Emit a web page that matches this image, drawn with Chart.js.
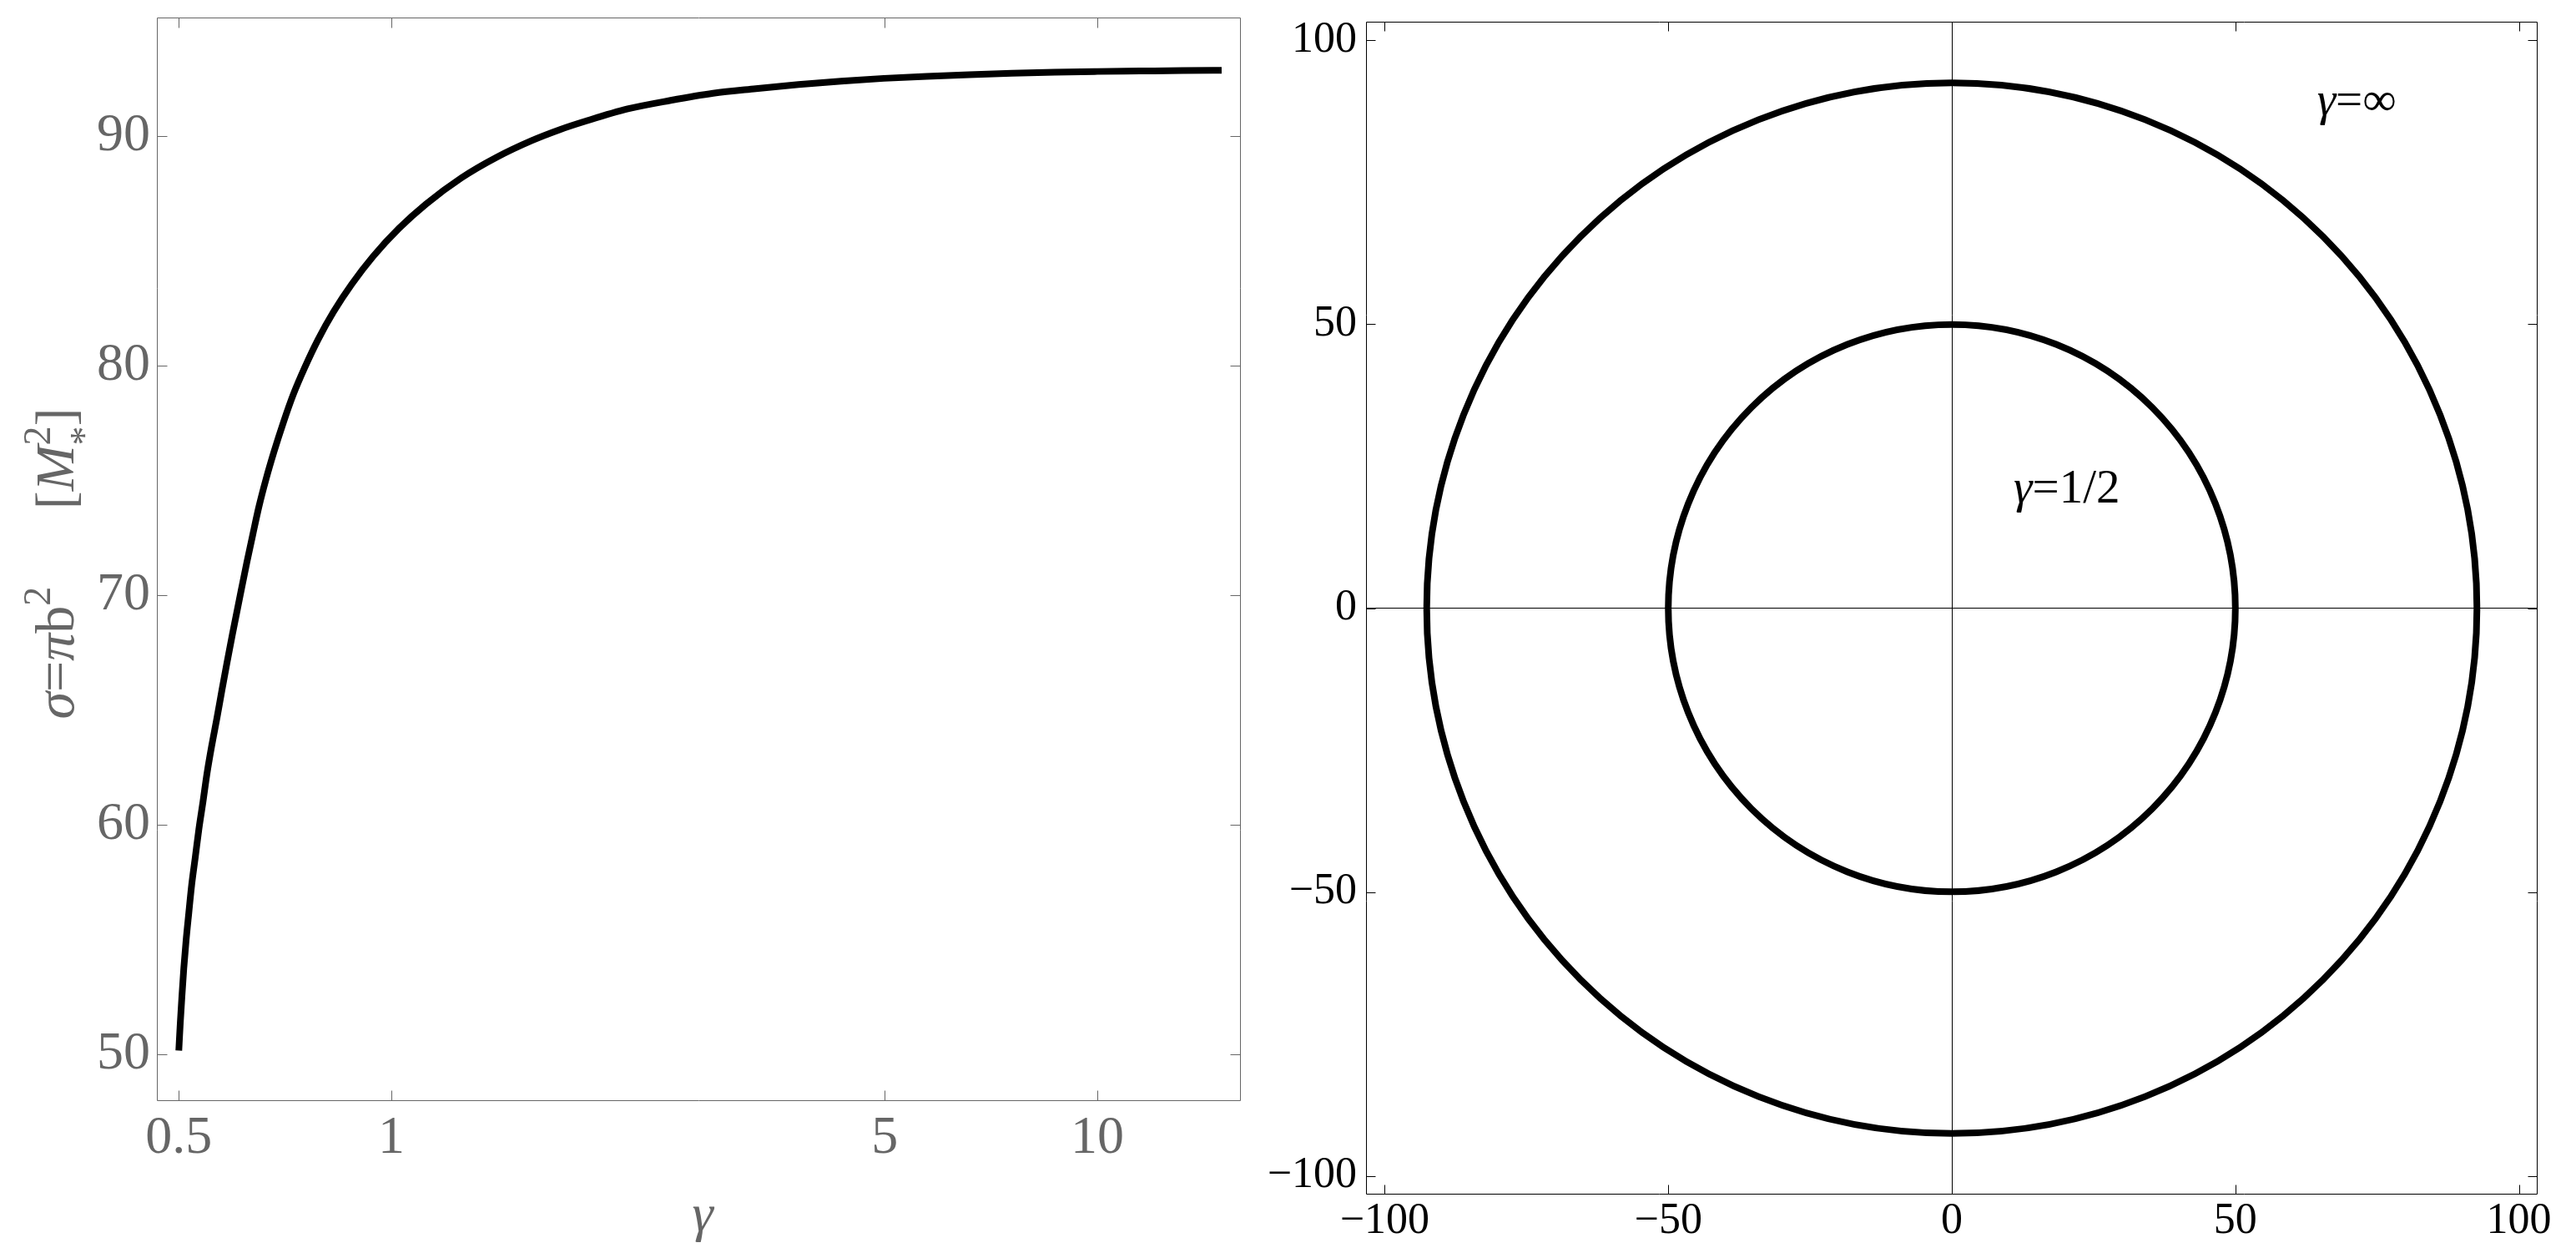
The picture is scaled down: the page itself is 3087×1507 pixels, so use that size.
<!DOCTYPE html>
<html>
<head>
<meta charset="utf-8">
<title>Cross section against gamma</title>
<script src="https://cdn.jsdelivr.net/npm/chart.js@4.4.1/dist/chart.umd.min.js"></script>
<style>
  html, body { margin: 0; padding: 0; background: #fff; overflow: hidden; }
  body { width: 3087px; height: 1507px; position: relative; }
  canvas { position: absolute; top: -40px; }
  #sigmaChart { left: 0; }
  #ringChart { left: 1500px; }
</style>
</head>
<body>
<canvas id="sigmaChart" width="1500" height="1547"></canvas>
<canvas id="ringChart" width="1587" height="1547"></canvas>
<script>
// left panel: sigma = pi b^2 against gamma
const gammaValues = [0.5, 0.5023, 0.5051, 0.5082, 0.512, 0.5166, 0.5214, 0.5276, 0.5338, 0.5411,
  0.5481, 0.5566, 0.5662, 0.5755, 0.5852, 0.5954, 0.6129, 0.6243, 0.6365, 0.6494,
  0.6648, 0.6826, 0.7027, 0.7257, 0.7541, 0.7874, 0.8282, 0.8792, 0.9427, 1.0257,
  1.1194, 1.2559, 1.4092, 1.5811, 1.7337, 1.882, 2.162, 2.486, 2.856, 3.283,
  3.774, 4.336, 4.985, 5.731, 6.585, 7.568, 8.7, 10, 11.49, 13.21, 15];
const sigmaValues = [50.17, 51.32, 52.53, 53.75, 54.96, 56.17, 57.38, 58.59, 59.81, 61.02,
  62.23, 63.44, 64.65, 65.87, 67.08, 68.29, 70.23, 71.44, 72.65, 73.87,
  75.08, 76.29, 77.5, 78.72, 79.93, 81.14, 82.35, 83.56, 84.77, 85.99,
  87.04, 88.18, 89.08, 89.81, 90.29, 90.65, 91.19, 91.56, 91.87, 92.07,
  92.25, 92.4, 92.52, 92.61, 92.68, 92.74, 92.79, 92.82, 92.84, 92.86, 92.87];
const gammaMajorTicks = [0.5, 1, 5, 10];
const gammaMinorTicks = [0.6, 0.7, 0.8, 0.9, 2, 3, 4, 6, 7, 8, 9];
const sigmaMajorTicks = [50, 60, 70, 80, 90];
const sigmaMinorTicks = [48, 52, 54, 56, 58, 62, 64, 66, 68, 72, 74, 76, 78, 82, 84, 86, 88, 92, 94];

// right panel: the two rings
const ringRadii = [50, 92.6];
const ringNames = ['1/2', '∞'];
const ringMajorTicks = [-100, -50, 0, 50, 100];
const ringMinorTicks = [-90, -80, -70, -60, -40, -30, -20, -10, 10, 20, 30, 40, 60, 70, 80, 90];

// where the ring names sit (data coords of left end of baseline)
const ringLabelSpots = [{ x: 10.9, y: 18.6 }, { x: 64.4, y: 86.9 }];

const SERIF = '"Liberation Serif", "Times New Roman", serif';

const sorted = arr => arr.slice().sort((a, b) => a - b);

// closed frame with inward ticks on all four sides
function framePlugin(color, xMajors, yMajors, majorLen, minorLen) {
  return {
    id: 'frame',
    afterDatasetsDraw(chart) {
      const { ctx, chartArea: a, scales: { x, y } } = chart;
      const L = Math.round(a.left) + 0.5, R = Math.round(a.right) - 0.5;
      const T = Math.round(a.top) + 0.5, B = Math.round(a.bottom) - 0.5;
      ctx.save();
      ctx.strokeStyle = color;
      ctx.lineWidth = 1;
      ctx.beginPath();
      ctx.rect(L, T, R - L, B - T);
      x.ticks.forEach(t => {
        const px = Math.round(x.getPixelForValue(t.value)) + 0.5;
        const len = xMajors.includes(t.value) ? majorLen : minorLen;
        ctx.moveTo(px, B); ctx.lineTo(px, B - len);
        ctx.moveTo(px, T); ctx.lineTo(px, T + len);
      });
      y.ticks.forEach(t => {
        const py = Math.round(y.getPixelForValue(t.value)) + 0.5;
        const len = yMajors.includes(t.value) ? majorLen : minorLen;
        ctx.moveTo(L, py); ctx.lineTo(L + len, py);
        ctx.moveTo(R, py); ctx.lineTo(R - len, py);
      });
      ctx.stroke();
      ctx.restore();
    }
  };
}

// text made of pieces: italic, smaller raised/lowered pieces, gaps
function richWidth(ctx, parts, size) {
  let w = 0;
  parts.forEach(p => {
    if (p.gap) { w += p.gap * size; return; }
    ctx.font = (p.it ? 'italic ' : '') + Math.round(size * (p.sc || 1)) + 'px ' + SERIF;
    if (!p.stack) w += ctx.measureText(p.t).width;
  });
  return w;
}
function drawRich(ctx, parts, size, x0, y0) {
  let x = x0;
  parts.forEach(p => {
    if (p.gap) { x += p.gap * size; return; }
    ctx.font = (p.it ? 'italic ' : '') + Math.round(size * (p.sc || 1)) + 'px ' + SERIF;
    ctx.fillText(p.t, x, y0 + (p.dy || 0) * size);
    if (!p.stack) x += ctx.measureText(p.t).width;
  });
}

const sigmaTitle = [
  { t: 'σ', it: true }, { t: '=' }, { t: 'π', it: true }, { t: 'b' },
  { t: '2', sc: 0.7, dy: -0.42 },
  { gap: 1.4 },
  { t: '[' }, { t: 'M', it: true },
  { t: '*', sc: 0.7, dy: 0.42, stack: true },
  { t: '2', sc: 0.7, dy: -0.42 }, { t: ']' }
];

const titlePlugin = {
  id: 'titles',
  afterDraw(chart) {
    const { ctx, chartArea: a } = chart;
    ctx.save();
    ctx.fillStyle = '#666';
    ctx.textAlign = 'left';
    ctx.textBaseline = 'alphabetic';
    // y title, rotated
    ctx.save();
    ctx.translate(a.left - 100, (a.top + a.bottom) / 2 + 5);
    ctx.rotate(-Math.PI / 2);
    const w = richWidth(ctx, sigmaTitle, 66);
    drawRich(ctx, sigmaTitle, 66, -w / 2, 0);
    ctx.restore();
    // x title
    ctx.font = 'italic 64px ' + SERIF;
    ctx.textAlign = 'center';
    ctx.fillText('γ', 842, a.bottom + 155);
    ctx.restore();
  }
};

const ringLabelPlugin = {
  id: 'ringLabels',
  afterDatasetsDraw(chart) {
    const { ctx, scales: { x, y } } = chart;
    ctx.save();
    ctx.fillStyle = '#000';
    ctx.textAlign = 'left';
    ctx.textBaseline = 'alphabetic';
    ringNames.forEach((name, i) => {
      const parts = [{ t: 'γ', it: true }, { t: '=' + name }];
      drawRich(ctx, parts, 57, x.getPixelForValue(ringLabelSpots[i].x), y.getPixelForValue(ringLabelSpots[i].y));
    });
    ctx.restore();
  }
};

const minusLabel = v => (v < 0 ? '\u2212' + Math.abs(v) : String(v));

// left chart
new Chart(document.getElementById('sigmaChart'), {
  type: 'scatter',
  data: {
    datasets: [{
      data: gammaValues.map((g, i) => ({ x: g, y: sigmaValues[i] })),
      showLine: true,
      borderColor: '#000',
      borderWidth: 8,
      borderCapStyle: 'butt',
      pointRadius: 0,
      cubicInterpolationMode: 'monotone'
    }]
  },
  options: {
    responsive: false,
    animation: false,
    devicePixelRatio: 1,
    events: [],
    layout: { padding: { left: 0, top: 61, right: 13, bottom: 0 }, autoPadding: false },
    plugins: { legend: { display: false }, tooltip: { enabled: false } },
    scales: {
      x: {
        type: 'logarithmic',
        min: 0.4655,
        max: 15.97,
        afterBuildTicks: s => { s.ticks = sorted(gammaMajorTicks.concat(gammaMinorTicks)).map(v => ({ value: v })); },
        afterFit: s => { s.height = 188; },
        grid: { display: false, drawTicks: false },
        border: { display: false },
        ticks: {
          autoSkip: false, maxRotation: 0, minRotation: 0, padding: 13, color: '#666',
          font: { family: SERIF, size: 64, lineHeight: 1 },
          callback: v => (gammaMajorTicks.includes(v) ? String(v) : null)
        }
      },
      y: {
        type: 'linear',
        min: 47.97,
        max: 95.17,
        afterBuildTicks: s => { s.ticks = sorted(sigmaMajorTicks.concat(sigmaMinorTicks)).map(v => ({ value: v })); },
        afterFit: s => { s.width = 188; },
        grid: { display: false, drawTicks: false },
        border: { display: false },
        ticks: {
          autoSkip: false, padding: 8, color: '#666',
          font: { family: SERIF, size: 64, lineHeight: 1 },
          callback: v => (sigmaMajorTicks.includes(v) ? String(v) : null)
        }
      }
    }
  },
  plugins: [framePlugin('#666', gammaMajorTicks, sigmaMajorTicks, 12, 7), titlePlugin]
});

// right chart
const ringTicks = sorted(ringMajorTicks.concat(ringMinorTicks));
const ringAxis = (fitKey, fitSize, pad) => ({
  type: 'linear',
  min: -103.3,
  max: 103.3,
  afterBuildTicks: s => { s.ticks = ringTicks.map(v => ({ value: v })); },
  afterFit: s => { s[fitKey] = fitSize; },
  grid: {
    drawTicks: false,
    lineWidth: 1,
    color: c => (c.tick && c.tick.value === 0 ? '#000' : 'rgba(0,0,0,0)')
  },
  border: { display: false },
  ticks: {
    autoSkip: false, maxRotation: 0, minRotation: 0, padding: pad, color: '#000',
    font: { family: SERIF, size: 52, lineHeight: 1 },
    callback: v => (ringMajorTicks.includes(v) ? minusLabel(v) : null)
  }
});

new Chart(document.getElementById('ringChart'), {
  type: 'scatter',
  data: {
    datasets: ringRadii.map(r => ({
      data: [{ x: 0, y: 0 }],
      pointStyle: 'circle',
      pointBackgroundColor: 'rgba(0,0,0,0)',
      pointBorderColor: '#000',
      pointBorderWidth: 8,
      pointRadius: c => {
        const s = c.chart.scales.x;
        const rad = s ? Math.abs(s.getPixelForValue(r) - s.getPixelForValue(0)) : 0;
        return isFinite(rad) ? rad : 0;
      },
      clip: false
    }))
  },
  options: {
    responsive: false,
    animation: false,
    devicePixelRatio: 1,
    events: [],
    layout: { padding: { left: 0, top: 66, right: 46, bottom: 0 }, autoPadding: false },
    plugins: { legend: { display: false }, tooltip: { enabled: false } },
    scales: {
      x: ringAxis('height', 76, 6),
      y: ringAxis('width', 137, 11)
    }
  },
  plugins: [framePlugin('#000', ringMajorTicks, ringMajorTicks, 11, 7), ringLabelPlugin]
});
</script>
</body>
</html>
